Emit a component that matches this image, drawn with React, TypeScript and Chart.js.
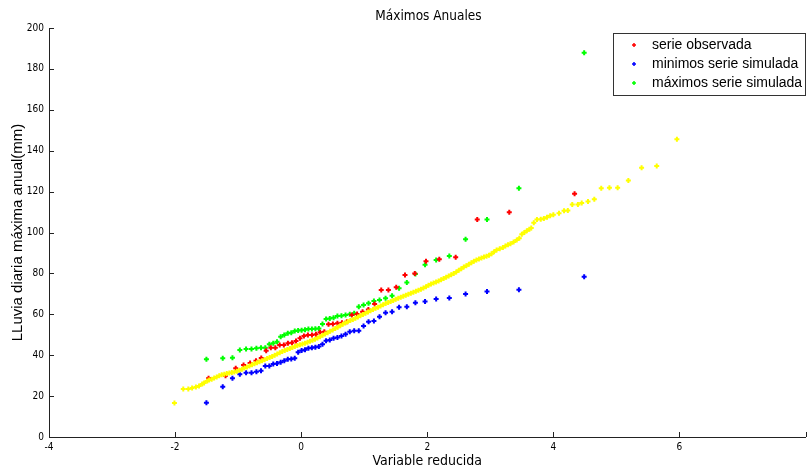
import React, { useEffect, useRef } from "react";
import { Chart, registerables } from "chart.js";

Chart.register(...registerables);

const chartTitle = "Máximos Anuales";
const xAxisTitle = "Variable reducida";
const yAxisTitle = "LLuvia diaria máxima anual(mm)";
const legendLabels = ["serie observada", "minimos serie simulada", "máximos serie simulada"];
const xMin = -4;
const xMax = 8;
const xStep = 2;
const yMin = 0;
const yMax = 200;
const yStep = 20;

// observed series (reduced variable, rainfall)
const obsX = [
  -1.469, -1.2, -1.038, -0.914, -0.81, -0.717, -0.633, -0.555, -0.481, -0.41,
  -0.341, -0.275, -0.21, -0.146, -0.082, -0.019, 0.044, 0.107, 0.171, 0.235,
  0.3, 0.367, 0.434, 0.503, 0.575, 0.648, 0.725, 0.804, 0.887, 0.974,
  1.066, 1.165, 1.27, 1.384, 1.508, 1.647, 1.802, 1.98, 2.191, 2.451,
  2.793, 3.301, 4.337,
];
const obsY = [
  28.7, 30.0, 33.6, 35.2, 36.2, 37.3, 38.6, 42.2, 43.7, 43.7,
  45.0, 45.0, 45.8, 46.1, 46.9, 48.3, 49.4, 49.9, 49.9, 50.2,
  51.2, 51.5, 55.1, 55.3, 55.6, 55.9, 56.4, 59.7, 60.1, 61.3,
  62.4, 65.0, 71.9, 71.9, 73.2, 79.2, 80.0, 85.9, 86.9, 87.9,
  106.4, 109.9, 119.0,
];

// simulated min / max series
const simX = [
  -1.503, -1.244, -1.09, -0.973, -0.874, -0.788, -0.71, -0.637, -0.569, -0.505,
  -0.443, -0.383, -0.325, -0.268, -0.212, -0.157, -0.102, -0.048, 0.007, 0.061,
  0.115, 0.17, 0.225, 0.281, 0.338, 0.395, 0.454, 0.514, 0.575, 0.639,
  0.704, 0.771, 0.841, 0.914, 0.99, 1.069, 1.154, 1.243, 1.339, 1.442,
  1.553, 1.676, 1.812, 1.965, 2.141, 2.35, 2.608, 2.948, 3.454, 4.489,
];
const minY = [
  16.8, 24.6, 28.7, 30.7, 31.4, 31.4, 31.9, 32.4, 34.7, 34.7,
  35.7, 36.0, 36.5, 37.3, 38.0, 38.2, 38.5, 41.4, 42.3, 42.7,
  43.4, 43.7, 43.9, 44.2, 45.3, 47.1, 47.4, 48.3, 48.6, 49.4,
  50.2, 51.5, 52.0, 52.0, 54.3, 56.4, 56.7, 58.8, 60.8, 61.3,
  63.4, 63.7, 65.7, 66.2, 67.5, 68.0, 69.9, 71.2, 72.0, 78.4,
];
const maxY = [
  38.0, 38.5, 38.8, 42.5, 43.0, 43.0, 43.4, 43.7, 43.7, 45.3,
  45.8, 46.6, 49.0, 49.9, 50.7, 51.0, 51.8, 52.1, 52.2, 52.4,
  52.8, 52.8, 52.9, 53.1, 55.3, 57.7, 58.0, 58.3, 59.2, 59.3,
  59.7, 60.0, 60.5, 63.7, 64.5, 65.4, 66.5, 67.0, 67.8, 69.1,
  72.7, 75.6, 79.7, 84.2, 86.6, 88.5, 96.7, 106.4, 121.6, 187.9,
];

// long simulated series (yellow)
const fitX = [
  -2.01, -1.87, -1.79, -1.73, -1.67, -1.62, -1.57, -1.54, -1.49, -1.46,
  -1.42, -1.38, -1.34, -1.3, -1.26, -1.22, -1.18, -1.14, -1.1, -1.06,
  -1.02, -0.98, -0.94, -0.9, -0.86, -0.82, -0.78, -0.74, -0.7, -0.66,
  -0.62, -0.58, -0.54, -0.5, -0.46, -0.42, -0.38, -0.34, -0.3, -0.26,
  -0.22, -0.18, -0.14, -0.1, -0.06, -0.02, 0.02, 0.06, 0.1, 0.14,
  0.18, 0.22, 0.26, 0.3, 0.34, 0.38, 0.42, 0.46, 0.5, 0.54,
  0.58, 0.62, 0.66, 0.7, 0.74, 0.78, 0.82, 0.86, 0.9, 0.94,
  0.98, 1.02, 1.06, 1.1, 1.14, 1.18, 1.22, 1.26, 1.3, 1.34,
  1.38, 1.42, 1.46, 1.5, 1.54, 1.58, 1.62, 1.66, 1.7, 1.74,
  1.78, 1.82, 1.86, 1.9, 1.94, 1.98, 2.02, 2.06, 2.1, 2.14,
  2.18, 2.22, 2.26, 2.3, 2.34, 2.38, 2.42, 2.46, 2.5, 2.54,
  2.58, 2.62, 2.66, 2.7, 2.74, 2.78, 2.82, 2.86, 2.9, 2.94,
  2.98, 3.02, 3.06, 3.1, 3.15, 3.2, 3.24, 3.28, 3.32, 3.37,
  3.42, 3.46, 3.5, 3.54, 3.58, 3.62, 3.65, 3.69, 3.74, 3.8,
  3.85, 3.9, 3.95, 4.0, 4.09, 4.17, 4.23, 4.3, 4.39, 4.45,
  4.55, 4.65, 4.76, 4.89, 5.02, 5.19, 5.4, 5.64, 5.96,
];
const fitY = [
  16.6, 23.5, 23.5, 24.0, 24.4, 24.9, 25.9, 26.4, 27.4, 27.9,
  28.3, 28.8, 29.4, 29.9, 30.4, 30.7, 31.0, 31.3, 31.5, 31.8,
  32.2, 32.6, 33.1, 33.7, 34.2, 34.7, 35.3, 35.8, 36.3, 36.8,
  37.3, 37.8, 38.4, 38.9, 39.4, 40.0, 40.6, 41.2, 41.8, 42.3,
  42.8, 43.3, 43.8, 44.3, 44.7, 45.1, 45.5, 45.9, 46.3, 46.8,
  47.3, 47.8, 48.4, 49.0, 49.7, 50.4, 51.0, 51.7, 52.3, 53.0,
  53.7, 54.4, 55.1, 55.8, 56.4, 57.0, 57.5, 58.1, 58.7, 59.3,
  59.9, 60.5, 61.1, 61.7, 62.3, 62.9, 63.5, 64.1, 64.7, 65.3,
  65.8, 66.3, 66.8, 67.3, 67.8, 68.3, 68.8, 69.3, 69.8, 70.3,
  70.8, 71.3, 71.8, 72.3, 72.9, 73.5, 74.2, 74.8, 75.3, 75.8,
  76.3, 76.9, 77.5, 78.1, 78.7, 79.3, 80.0, 80.7, 81.5, 82.3,
  83.1, 83.8, 84.5, 85.2, 85.9, 86.5, 87.0, 87.5, 88.0, 88.4,
  88.9, 89.6, 90.6, 91.4, 92.0, 92.7, 93.4, 94.0, 94.5, 95.3,
  96.3, 97.2, 99.2, 100.0, 100.8, 101.6, 102.2, 104.8, 106.4, 106.5,
  106.9, 107.5, 108.2, 108.7, 109.4, 110.6, 110.7, 113.7, 113.7, 114.4,
  115.2, 116.2, 121.6, 121.9, 121.9, 125.4, 131.7, 132.5, 145.6,
];

const RED = "#ff0000";
const BLUE = "#0000ff";
const GREEN = "#00ff00";
const YELLOW = "#ffff00";

const NARROW = "'Liberation Sans Narrow', 'DejaVu Sans Condensed', 'Liberation Sans', sans-serif";
const REGULAR = "'Liberation Sans', Arial, sans-serif";

const toPoints = (xs: number[], ys: number[]) => xs.map((x, i) => ({ x, y: ys[i] }));

const overlayPlugin = {
  id: "matlabOverlay",
  afterDraw(chart: any) {
    const { ctx, chartArea, scales } = chart;
    const xs = scales.x;
    const ys = scales.y;
    ctx.save();
    // inward tick marks
    ctx.strokeStyle = "#222";
    ctx.lineWidth = 1;
    xs.ticks.forEach((t: any) => {
      const px = Math.round(xs.getPixelForValue(t.value)) + 0.5;
      ctx.beginPath();
      ctx.moveTo(px, chartArea.bottom);
      ctx.lineTo(px, chartArea.bottom - 5);
      ctx.stroke();
    });
    ys.ticks.forEach((t: any) => {
      const py = Math.round(ys.getPixelForValue(t.value)) + 0.5;
      ctx.beginPath();
      ctx.moveTo(chartArea.left, py);
      ctx.lineTo(chartArea.left + 5, py);
      ctx.stroke();
    });
    // title
    ctx.fillStyle = "#000";
    ctx.font = `13.5px ${NARROW}`;
    ctx.textAlign = "center";
    ctx.textBaseline = "middle";
    ctx.fillText(chartTitle, (chartArea.left + 808) / 2, 16);
    // legend box
    const bx = 613.5;
    const by = 33.5;
    const bw = 192;
    const bh = 62;
    ctx.fillStyle = "#fff";
    ctx.fillRect(bx, by, bw, bh);
    ctx.strokeStyle = "#333";
    ctx.strokeRect(bx, by, bw, bh);
    const colors = [chart.data.datasets[1].borderColor, chart.data.datasets[2].borderColor, chart.data.datasets[3].borderColor];
    ctx.font = `14px ${REGULAR}`;
    ctx.textAlign = "left";
    legendLabels.forEach((lab, i) => {
      const cy = 45 + i * 19;
      ctx.strokeStyle = colors[i];
      ctx.lineWidth = 1.5;
      ctx.beginPath();
      ctx.moveTo(632, cy);
      ctx.lineTo(636, cy);
      ctx.moveTo(634, cy - 2);
      ctx.lineTo(634, cy + 2);
      ctx.stroke();
      ctx.fillStyle = "#000";
      ctx.fillText(lab, 652, cy + 0.5);
    });
    ctx.restore();
  },
};

export default function App() {
  const ref = useRef<HTMLCanvasElement | null>(null);
  useEffect(() => {
    document.body.style.margin = "0";
    const canvas = ref.current;
    if (!canvas) return;
    const common = {
      showLine: false,
      pointStyle: "cross",
      pointRadius: 2.5,
      pointBorderWidth: 2,
      pointHoverRadius: 2.5,
    };
    const chart = new Chart(canvas, {
      type: "scatter",
      data: {
        datasets: [
          { label: "simulada", data: toPoints(fitX, fitY), borderColor: YELLOW, backgroundColor: YELLOW, ...common },
          { label: legendLabels[0], data: toPoints(obsX, obsY), borderColor: RED, backgroundColor: RED, ...common },
          { label: legendLabels[1], data: toPoints(simX, minY), borderColor: BLUE, backgroundColor: BLUE, ...common },
          { label: legendLabels[2], data: toPoints(simX, maxY), borderColor: GREEN, backgroundColor: GREEN, ...common },
        ],
      },
      options: {
        animation: false,
        responsive: false,
        layout: { padding: { top: 28, right: 0, bottom: 0, left: 0 } },
        plugins: {
          legend: { display: false },
          tooltip: { enabled: false },
          title: { display: false },
        },
        scales: {
          x: {
            type: "linear",
            position: "bottom",
            min: xMin,
            max: xMax,
            afterFit: (s: any) => {
              s.height = 34;
            },
            grid: { display: false, drawTicks: false },
            border: { display: true, color: "#222" },
            ticks: {
              stepSize: xStep,
              padding: 4,
              color: "#000",
              maxRotation: 0,
              autoSkip: false,
              font: { family: NARROW, size: 10 },
              callback: (v: any) => (Number(v) === xMax ? "" : String(v)),
            },
            title: {
              display: true,
              text: xAxisTitle,
              color: "#000",
              font: { family: NARROW, size: 14 },
              padding: { top: 0, bottom: 1 },
            },
          },
          y: {
            type: "linear",
            position: "left",
            min: yMin,
            max: yMax,
            afterFit: (s: any) => {
              s.width = 49;
            },
            grid: { display: false, drawTicks: false },
            border: { display: true, color: "#222" },
            ticks: {
              stepSize: yStep,
              padding: 5,
              color: "#000",
              font: { family: NARROW, size: 10 },
            },
            title: {
              display: true,
              text: yAxisTitle,
              color: "#000",
              font: { family: REGULAR, size: 15 },
              padding: { top: 9, bottom: 0 },
            },
          },
        },
      },
      plugins: [overlayPlugin],
    } as any);
    return () => chart.destroy();
  }, []);
  return (
    <div style={{ width: 808, height: 471, overflow: "hidden", background: "#fff" }}>
      <canvas ref={ref} width={810} height={471} style={{ width: 810, height: 471, display: "block" }} />
    </div>
  );
}
